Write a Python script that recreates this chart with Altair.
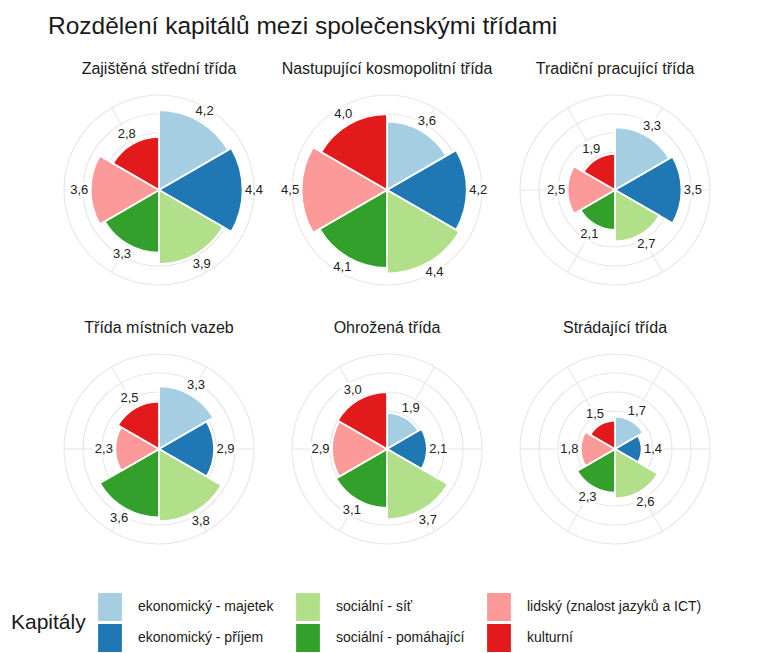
import altair as alt
import pandas as pd

# ---- data -------------------------------------------------------------
classes = [
    "Zajištěná střední třída",
    "Nastupující kosmopolitní třída",
    "Tradiční pracující třída",
    "Třída místních vazeb",
    "Ohrožená třída",
    "Strádající třída",
]
capitals = [
    "ekonomický - majetek",
    "ekonomický - příjem",
    "sociální - síť",
    "sociální - pomáhající",
    "lidský (znalost jazyků a ICT)",
    "kulturní",
]
zajistena = [4.2, 4.4, 3.9, 3.3, 3.6, 2.8]
nastupujici = [3.6, 4.2, 4.4, 4.1, 4.5, 4.0]
tradicni = [3.3, 3.5, 2.7, 2.1, 2.5, 1.9]
mistni = [3.3, 2.9, 3.8, 3.6, 2.3, 2.5]
ohrozena = [1.9, 2.1, 3.7, 3.1, 2.9, 3.0]
stradajici = [1.7, 1.4, 2.6, 2.3, 1.8, 1.5]
grid_levels = [1, 2, 3, 4, 5]
palette = ["#A6CEE3", "#1F78B4", "#B2DF8A", "#33A02C", "#FB9A99", "#E31A1C"]

values_by_class = [zajistena, nastupujici, tradicni, mistni, ohrozena, stradajici]

rows = []
for cls, vals in zip(classes, values_by_class):
    for i, (cap, v) in enumerate(zip(capitals, vals)):
        rows.append(dict(trida=cls, kind="bar", kapital=cap, idx=i, value=v,
                         label=f"{v:.1f}".replace(".", ",")))
    for g in grid_levels:
        rows.append(dict(trida=cls, kind="grid", g=g))
    for i in range(len(capitals)):
        rows.append(dict(trida=cls, kind="spoke", idx=i, g=max(grid_levels)))
df = pd.DataFrame(rows)

# legend is filled row by row -> reorder so columns read like the reference
legend_order = [capitals[0], capitals[2], capitals[4], capitals[1], capitals[3], capitals[5]]
legend_colors = [palette[0], palette[2], palette[4], palette[1], palette[3], palette[5]]

FONT = "Liberation Sans"
theta_scale = alt.Scale(domain=[0, 6], range=[0, 6.283185307])
r_scale = alt.Scale(type="linear", domain=[0, 5], range=[0, 95], zero=True)

base = alt.Chart()

grid = base.transform_filter("datum.kind == 'grid'").mark_arc(
    fillOpacity=0, stroke="#E6E6E6", strokeWidth=1.1
).encode(
    theta=alt.value(0),
    theta2=alt.value(6.2832),
    radius=alt.Radius("g:Q", scale=r_scale, stack=None),
)

spokes = base.transform_filter("datum.kind == 'spoke'").transform_calculate(
    tm="datum.idx + 0.5"
).mark_arc(fillOpacity=0, stroke="#E6E6E6", strokeWidth=1.1).encode(
    theta=alt.Theta("tm:Q", scale=theta_scale, stack=None),
    theta2="tm:Q",
    radius=alt.Radius("g:Q", scale=r_scale, stack=None),
    radius2=alt.value(0),
)

wedges = base.transform_filter("datum.kind == 'bar'").transform_calculate(
    t1="datum.idx + 1"
).mark_arc(stroke="white", strokeWidth=1.8).encode(
    theta=alt.Theta("idx:Q", scale=theta_scale, stack=None),
    theta2="t1:Q",
    radius=alt.Radius("value:Q", scale=r_scale, stack=None),
    color=alt.Color(
        "kapital:N",
        scale=alt.Scale(domain=legend_order, range=legend_colors),
        legend=alt.Legend(
            title="Kapitály",
            orient="none",
            legendX=-42,
            legendY=509,
            direction="horizontal",
            columns=3,
            titleOrient="left",
            titleFontSize=21,
            titleFontWeight="normal",
            titleFont=FONT,
            titleColor="#1a1a1a",
            titlePadding=10,
            titleBaseline="middle",
            labelFontSize=14,
            labelFont=FONT,
            labelColor="#1a1a1a",
            labelOffset=14,
            labelLimit=400,
            symbolType="M-0.85,-1H0.85V1H-0.85Z",
            symbolSize=784,
            symbolStrokeWidth=0,
            symbolOpacity=1,
            rowPadding=3,
            columnPadding=20,
        ),
    ),
)

text_common = dict(font=FONT, fontSize=13)

labels_halo = base.transform_filter("datum.kind == 'bar'").transform_calculate(
    tm="datum.idx + 0.5", lr="datum.value + 0.6"
).mark_text(color="white", stroke="white", strokeWidth=5, **text_common).encode(
    theta=alt.Theta("tm:Q", scale=theta_scale, stack=None),
    radius=alt.Radius("lr:Q", scale=r_scale, stack=None),
    text="label:N",
)

labels = base.transform_filter("datum.kind == 'bar'").transform_calculate(
    tm="datum.idx + 0.5", lr="datum.value + 0.6"
).mark_text(color="#222222", **text_common).encode(
    theta=alt.Theta("tm:Q", scale=theta_scale, stack=None),
    radius=alt.Radius("lr:Q", scale=r_scale, stack=None),
    text="label:N",
)

layered = alt.layer(grid, spokes, wedges, labels_halo, labels).properties(width=212, height=212)

chart = layered.facet(
    facet=alt.Facet(
        "trida:N",
        sort=classes,
        header=alt.Header(title=None, labelFontSize=16, labelFont=FONT,
                          labelColor="#1a1a1a", labelPadding=7),
    ),
    columns=3,
    data=df,
    spacing={"row": 24, "column": 16},
).properties(
    padding={"left": 3, "top": 5, "right": 5, "bottom": 5},
    title=alt.TitleParams(
        "Rozdělení kapitálů mezi společenskými třídami",
        anchor="start", frame="group", fontSize=24.5, font=FONT,
        fontWeight="normal", color="#1a1a1a", dx=-5, offset=22,
    ),
).configure_view(stroke=None)

chart.save("out.html", embed_options={"renderer": "svg", "actions": False})
